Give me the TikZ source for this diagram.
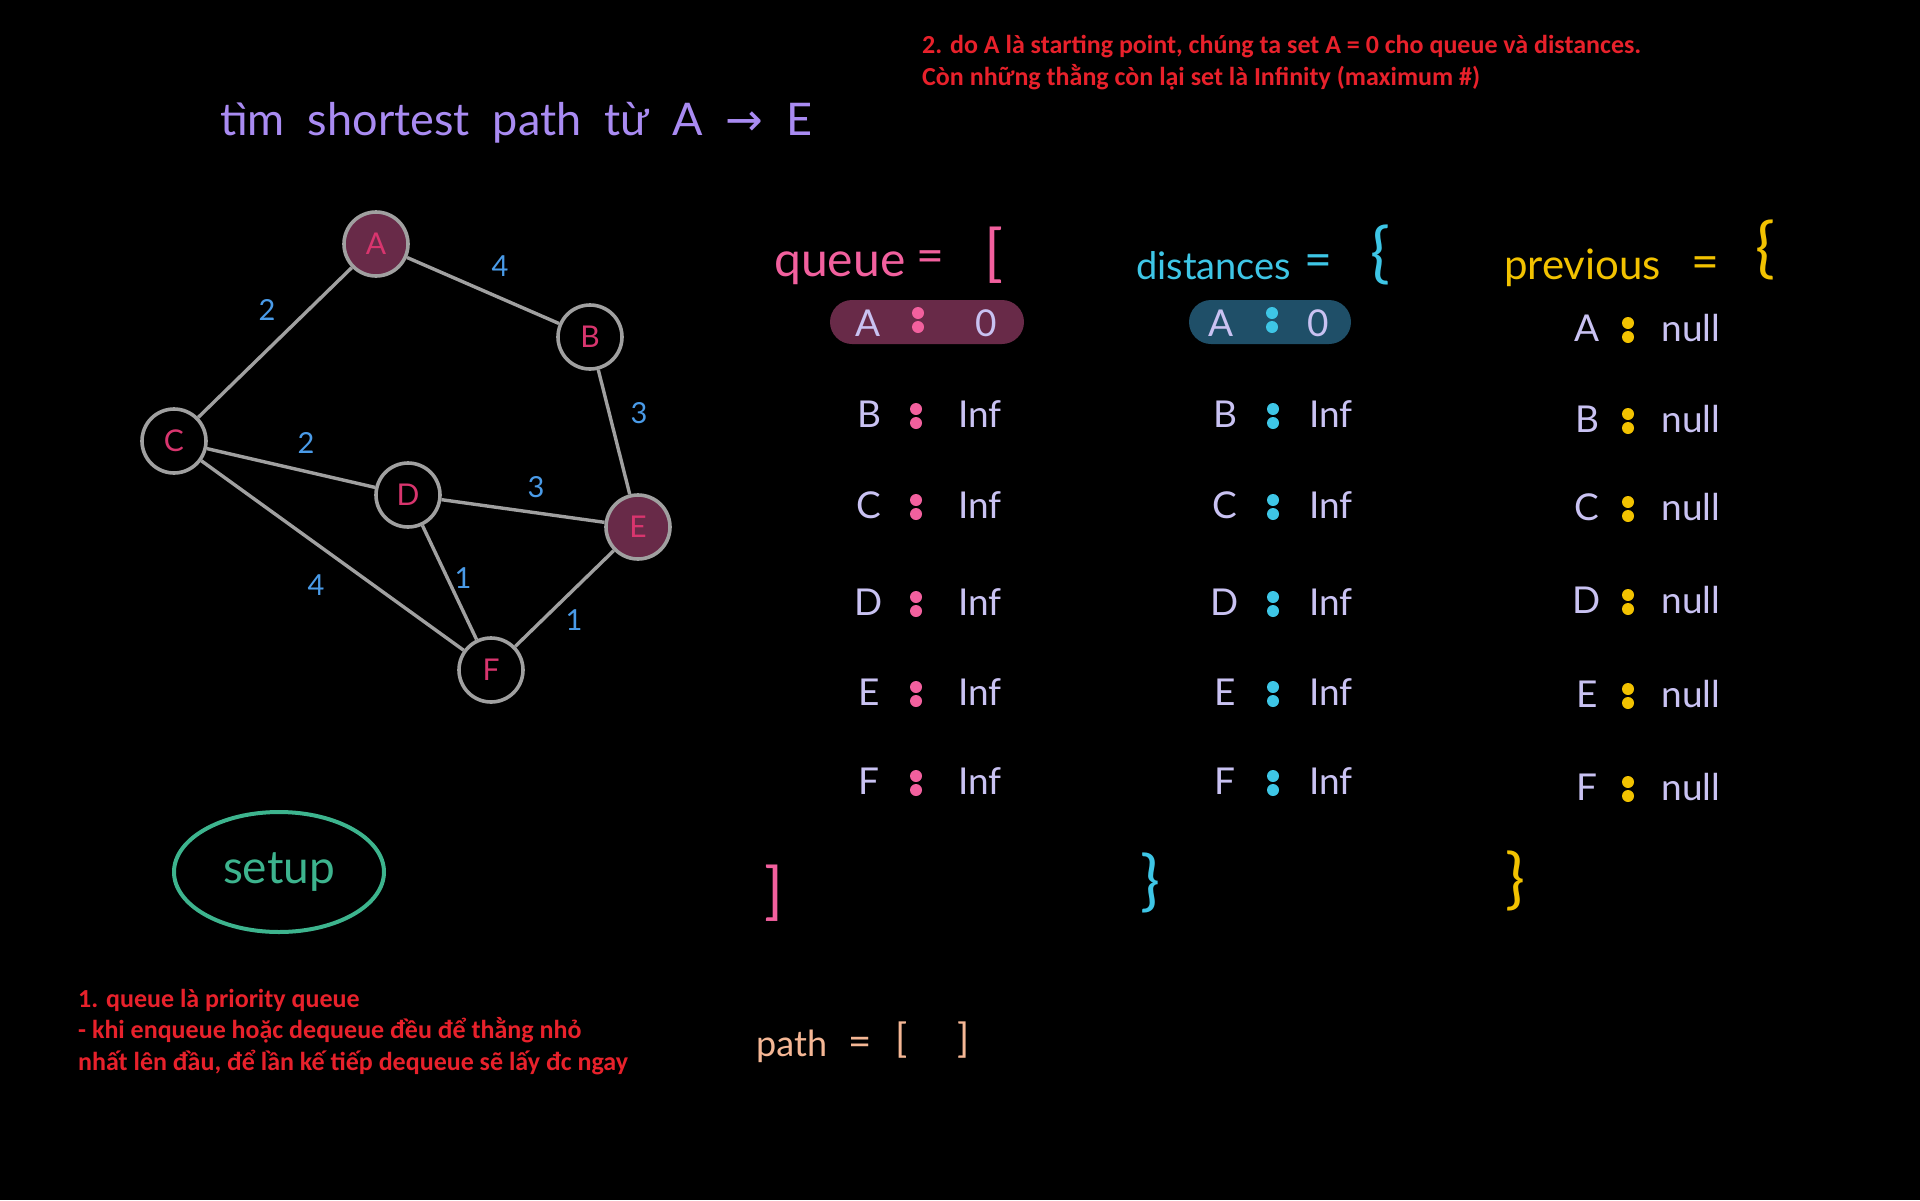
\documentclass[tikz,border=0pt]{standalone}
\usepackage{fontspec}
\setmainfont{Lato}
\newfontfamily\notefont{Carlito}
\newfontfamily\arrowfont{DejaVu Sans}
\usetikzlibrary{shapes.geometric}

\definecolor{edgegray}{HTML}{A0A0A0}
\definecolor{nodefill}{HTML}{682A48}
\definecolor{nodetext}{HTML}{D8356E}
\definecolor{weightblue}{HTML}{4A9BE8}
\definecolor{titlepurple}{HTML}{A98BF2}
\definecolor{queuepink}{HTML}{F2609E}
\definecolor{distcyan}{HTML}{3EC6E6}
\definecolor{distfill}{HTML}{1F4F68}
\definecolor{prevyellow}{HTML}{F2C200}
\definecolor{entrylav}{HTML}{C9C2F2}
\definecolor{setupgreen}{HTML}{3DB48E}
\definecolor{pathpeach}{HTML}{F5B795}
\definecolor{notered}{HTML}{E8212B}

% two round dots between a key and its value
\newcommand\twodots[3]{%
  \fill[#3] (#1,#2-5) circle (6);
  \fill[#3] (#1,#2+9) circle (6);}

\begin{document}
\begin{tikzpicture}[x=1pt,y=-1pt,
  hand/.style={inner sep=0pt, font=\fontsize{#1}{#1}\selectfont},
  hand/.default=36,
  vertex/.style={circle, draw=edgegray, line width=3.6pt, minimum size=64pt,
    inner sep=0pt, text=nodetext, font=\fontsize{30}{30}\selectfont},
  start/.style={vertex, fill=nodefill},
  edge/.style={edgegray, line width=3.4pt},
  weight/.style={hand=29, text=weightblue},
  entry/.style={hand=37, text=entrylav},
  pill/.style={rounded corners=22pt, minimum height=44pt, inner sep=0pt},
  note/.style={text=notered, inner sep=0pt, align=left,
    font=\notefont\bfseries\fontsize{26}{31.5}\selectfont}]
\useasboundingbox (0,0) rectangle (1920,1200);
\fill[black] (0,0) rectangle (1920,1200);

% title
\node[hand=45, text=titlepurple, anchor=base west] (title) at (220,135)
  {\spaceskip=23pt tìm shortest path từ A {\arrowfont→} E};

% graph
\node[start] (A) at (376,244) {A};
\node[vertex] (B) at (590,337) {B};
\node[vertex] (C) at (174,441) {C};
\node[vertex] (D) at (408,495) {D};
\node[start] (E) at (638,527) {E};
\node[vertex] (F) at (491,670) {F};

\draw[edge] (A) -- (B);
\draw[edge] (A) -- (C);
\draw[edge] (B) -- (E);
\draw[edge] (C) -- (D);
\draw[edge] (C) -- (F);
\draw[edge] (D) -- (E);
\draw[edge] (D) -- (F);
\draw[edge] (F) -- (E);

\node[weight] (wAC) at (267,310) {2};
\node[weight] (wAB) at (500,266) {4};
\node[weight] (wBE) at (639,413) {3};
\node[weight] (wCD) at (306,443) {2};
\node[weight] (wDE) at (536,487) {3};
\node[weight] (wCF) at (316,585) {4};
\node[weight] (wDF) at (463,578) {1};
\node[weight] (wFE) at (574,620) {1};

% queue
\node[hand=48, text=queuepink, anchor=base west] (qhead) at (774,276) {queue};
\node[hand=48, text=queuepink] (qeq) at (930,262) {=};
\node[hand=62, text=queuepink] (qopen) at (994,255) {[};
\node[pill, fill=nodefill, minimum width=194pt] (qpill) at (927,322) {};
\node[entry] (qA) at (868,323) {A};
\twodots{918}{318}{queuepink}
\node[entry] (qvA) at (986,323) {0};
\foreach \k/\y in {B/414,C/505,D/602,E/692,F/781} {
  \node[entry] (q\k) at (869,\y) {\k};
  \twodots{916}{\y}{queuepink}
  \node[entry] (qv\k) at (980,\y) {Inf};
}
\node[hand=62, text=queuepink] (qclose) at (774,893) {]};

% distances
\node[hand=38, text=distcyan, anchor=base west] (dhead) at (1136,279) {distances};
\node[hand=48, text=distcyan] (deq) at (1318,266) {=};
\node[hand=66, text=distcyan] (dopen) at (1380,255) {\{};
\node[pill, fill=distfill, minimum width=162pt] (dpill) at (1270,322) {};
\node[entry] (dA) at (1221,323) {A};
\twodots{1272}{318}{distcyan}
\node[entry] (dvA) at (1318,323) {0};
\foreach \k/\y in {B/414,C/505,D/602,E/692,F/781} {
  \node[entry] (d\k) at (1225,\y) {\k};
  \twodots{1273}{\y}{distcyan}
  \node[entry] (dv\k) at (1331,\y) {Inf};
}
\node[hand=66, text=distcyan] (dclose) at (1150,883) {\}};

% previous
\node[hand=42, text=prevyellow, anchor=base west] (phead) at (1504,279) {previous};
\node[hand=48, text=prevyellow] (peq) at (1705,268) {=};
\node[hand=66, text=prevyellow] (popen) at (1765,250) {\{};
\foreach \k/\y in {A/328,B/419,C/507,D/600,E/694,F/787} {
  \node[entry] (p\k) at (1587,\y) {\k};
  \twodots{1628}{\y}{prevyellow}
  \node[entry] (pv\k) at (1691,\y) {null};
}
\node[hand=66, text=prevyellow] (pclose) at (1515,881) {\}};

% setup
\node[ellipse, draw=setupgreen, line width=4pt, minimum width=210pt,
  minimum height=120pt, text=setupgreen, font=\fontsize{46}{46}\selectfont]
  (setup) at (279,872) {setup};

% path
\node[hand=36, text=pathpeach, anchor=base west] (phd) at (756,1056) {path};
\node[hand=40, text=pathpeach] (patheq) at (860,1046) {=};
\node[hand=40, text=pathpeach] (pathopen) at (902,1040) {[};
\node[hand=40, text=pathpeach] (pathclose) at (964,1040) {]};

% notes (base = last line)
\node[note, anchor=base west] (note2) at (922,85)
  {2. do A là starting point, chúng ta set A = 0 cho queue và distances.\\
   Còn những thằng còn lại set là Infinity (maximum \#)};
\node[note, anchor=base west] (note1) at (78,1070)
  {1. queue là priority queue\\
   - khi enqueue hoặc dequeue đều để thằng nhỏ\\
   nhất lên đầu, để lần kế tiếp dequeue sẽ lấy đc ngay};
\end{tikzpicture}
\end{document}
